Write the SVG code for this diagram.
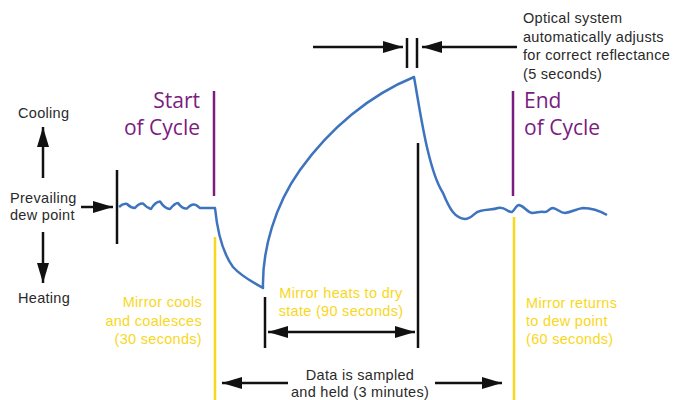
<svg xmlns="http://www.w3.org/2000/svg" width="675" height="400" viewBox="0 0 675 400">
<defs>
<marker id="ah" viewBox="0 0 20 12" refX="20" refY="6" markerWidth="20" markerHeight="12" markerUnits="userSpaceOnUse" orient="auto-start-reverse">
<path d="M0,0 L20,6 L0,12 Z" fill="#111"/>
</marker>
</defs>
<style>
.t{font-family:"Liberation Sans",Arial,sans-serif;font-size:14.5px;letter-spacing:0.3px;fill:#2a2a2a}
.y{font-family:"Liberation Sans",Arial,sans-serif;font-size:14.5px;letter-spacing:0.3px;fill:#f9d71c}
.p{font-family:"Open Sans","Liberation Sans",Arial,sans-serif;font-size:21px;fill:#7b1c7f}
.k{stroke:#111;stroke-width:2.5;fill:none}
.a{stroke:#111;stroke-width:2.5;fill:none;marker-end:url(#ah)}
.pl{stroke:#7b1c7f;stroke-width:2.5}
.yl{stroke:#f9d71c;stroke-width:2.5}
.c{stroke:#3d74bd;stroke-width:2.5;fill:none;stroke-linejoin:round}
</style>
<rect width="675" height="400" fill="#fff"/>
<g id="axis">
<text class="t" x="18" y="118">Cooling</text>
<text class="t" x="10" y="203">Prevailing</text>
<text class="t" x="10" y="220">dew point</text>
<text class="t" x="18" y="303">Heating</text>
</g>
<g id="start">
<text class="p" x="200" y="108" text-anchor="end">Start</text>
<text class="p" x="200" y="135" text-anchor="end">of Cycle</text>
<line class="pl" x1="214" y1="91" x2="214" y2="196"/>
</g>
<g id="end">
<text class="p" x="524" y="108">End</text>
<text class="p" x="524" y="135">of Cycle</text>
<line class="pl" x1="513" y1="91" x2="513" y2="196"/>
</g>
<g id="optical">
<text class="t" x="523" y="23">Optical system</text>
<text class="t" x="523" y="41.5">automatically adjusts</text>
<text class="t" x="523" y="60">for correct reflectance</text>
<text class="t" x="523" y="78.5">(5 seconds)</text>
<line class="k" x1="407" y1="38" x2="407" y2="68"/>
<line class="k" x1="417" y1="38" x2="417" y2="68"/>
</g>
<g id="cools">
<text class="y" x="202" y="307" text-anchor="end">Mirror cools</text>
<text class="y" x="202" y="326" text-anchor="end">and coalesces</text>
<text class="y" x="202" y="344" text-anchor="end">(30 seconds)</text>
<line class="yl" x1="215" y1="237" x2="215" y2="400"/>
</g>
<g id="heats">
<text class="y" x="341" y="298" text-anchor="middle">Mirror heats to dry</text>
<text class="y" x="341" y="316" text-anchor="middle">state (90 seconds)</text>
<line class="k" x1="265" y1="297" x2="265" y2="348"/>
<line class="k" x1="418" y1="143" x2="418" y2="348"/>
</g>
<g id="returns">
<text class="y" x="526" y="308">Mirror returns</text>
<text class="y" x="526" y="326">to dew point</text>
<text class="y" x="526" y="344">(60 seconds)</text>
<line class="yl" x1="514" y1="217" x2="514" y2="400"/>
</g>
<g id="data">
<text class="t" x="360" y="380" text-anchor="middle">Data is sampled</text>
<text class="t" x="360" y="397" text-anchor="middle">and held (3 minutes)</text>
</g>
<g id="dewline">
<line class="k" x1="117" y1="170" x2="117" y2="244"/>
</g>
<g id="curve">
<path class="c" d="M119,207 Q123,203 127,204 Q131,208 135,208 Q139,203 143,203.5 Q147,208 151,209 Q155,202 160,201.5 Q165,209 170,209 Q175,203 178,203 Q182,209 187,208.5 Q192,203 196,205 L200,208 L215,208 C217,228 222,252 233,267 C243,278 255,283 263,288 C262,250 275,205 300,170 C330,128 370,95 414,77 C420,110 428,170 443,193 C450,210 455,218 465,219 C472,219 474,212 480,211 C488,209 493,210 498,208 C505,206 508,213 512,212 C515,210 516,205 519,205 C524,206 527,212 532,213 C537,213 540,211 544,212 C548,213 549,208 553,208 C558,209 560,213 565,213 C572,212 576,209 583,208 C592,208 600,211 607,215"/>
</g>
<g id="connectors">
<line class="a" x1="43" y1="178" x2="43" y2="127"/>
<line class="a" x1="43" y1="232" x2="43" y2="283"/>
<line class="a" x1="81" y1="207" x2="113" y2="207"/>
<line class="a" x1="313" y1="47" x2="403" y2="47"/>
<line class="a" x1="517" y1="47" x2="422" y2="47"/>
<line class="a" x1="268" y1="332" x2="415" y2="332" style="marker-start:url(#ah)"/>
<line class="a" x1="288" y1="383" x2="222" y2="383"/>
<line class="a" x1="435" y1="383" x2="502" y2="383"/>
</g>
</svg>
